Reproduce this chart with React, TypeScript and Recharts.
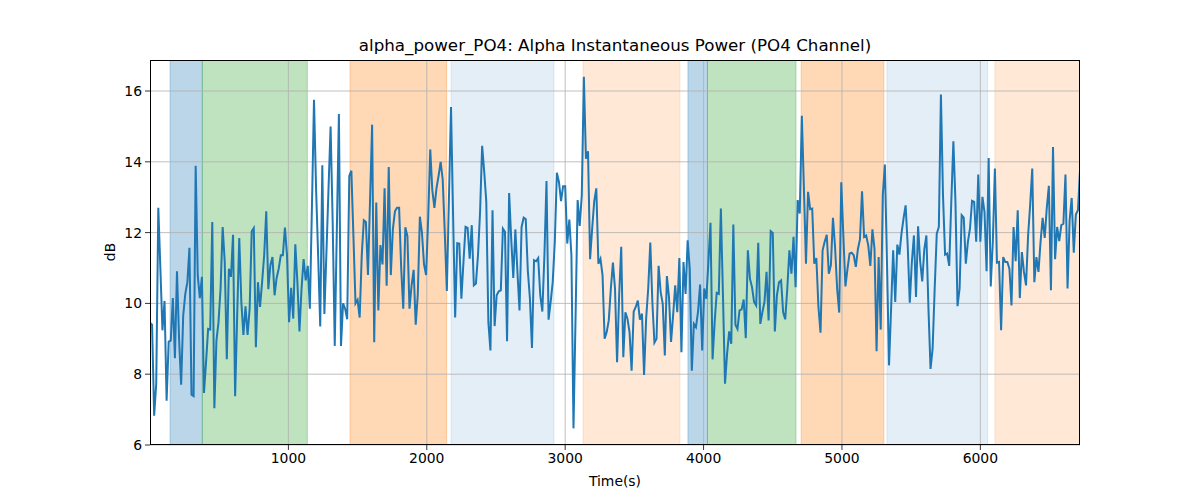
import React from 'react';
import { ComposedChart, Line, XAxis, YAxis, ReferenceArea, ReferenceLine } from 'recharts';

const TIME_STEP = 15;

const seg1 = [
  9.45, 9.4, 6.83, 7.73, 12.7, 10.98, 9.24, 10.07, 7.25, 8.92,
  8.95, 10.15, 8.45, 10.91, 9.0, 7.7, 9.66, 10.27, 10.6, 11.57,
  7.42, 7.38, 13.89, 10.79, 10.15, 10.75, 7.47, 8.34, 9.28, 9.26,
  12.3, 7.04, 8.95, 9.47, 10.42, 12.16, 11.17, 8.42, 10.98, 10.75,
  11.94, 7.38, 9.66, 11.85, 10.04, 9.11, 9.92, 9.11, 9.85, 12.04,
  12.13, 8.76, 10.6, 9.9, 10.6, 11.36, 12.6, 10.4, 11.08, 11.31,
  10.23, 10.72, 10.98, 11.36, 11.36, 12.14, 11.36, 9.47, 10.44, 9.57,
  11.67, 10.6, 9.21, 10.42, 11.25, 10.65, 11.06, 9.85,
];

const seg2 = [
  12.7, 15.75, 13.25, 11.35, 9.35, 13.9, 9.7, 11.45, 13.25, 15.0,
  12.3, 8.8, 12.07, 15.35, 8.8, 10.0, 9.85, 9.55, 13.6, 13.75,
  11.88, 10.0, 10.1, 9.6, 11.35, 12.35, 12.3, 10.8, 12.92, 15.05,
  8.9, 12.85, 9.8, 11.65, 11.1, 13.25, 10.5, 13.85, 10.8, 12.1,
  12.6, 12.7, 12.7, 11.0, 9.85, 12.15, 11.9, 9.85, 10.5, 10.95,
  9.4, 10.25, 12.45, 12.0, 11.1, 10.8, 12.4, 14.35, 13.2, 12.7,
  13.25, 13.6, 14.0, 13.5, 12.0, 10.35, 12.95, 15.55, 12.5, 9.6,
  11.7,
];

const seg3 = [
  11.69, 10.13, 11.17, 12.16, 12.13, 11.26, 12.21, 10.51, 10.56, 11.36,
  12.58, 14.45, 13.72, 12.87, 9.47, 8.67, 12.63, 9.36, 10.23, 10.34,
  10.37, 12.11, 12.02, 8.93, 13.12, 11.83, 10.72, 12.09, 10.89, 9.8,
  12.16, 12.42, 12.38, 10.93, 10.15, 8.74, 11.22, 11.19, 11.28, 10.23,
  9.77, 11.36, 13.46, 9.54, 10.04, 10.6, 11.74, 13.69, 13.43, 12.89,
  13.31, 13.31, 11.69, 12.37, 11.36, 6.47, 9.6, 12.92, 12.19, 13.06,
  16.4, 14.09, 14.3, 11.25, 12.11, 12.89, 13.25, 11.12, 11.26, 10.79,
  9.0, 9.19, 9.52, 10.42, 11.15, 10.42, 8.34, 10.23, 11.6,
];

const seg4 = [
  8.48, 9.75, 9.57, 9.19, 8.1, 9.77, 9.9, 10.08, 9.54, 9.71,
  7.98, 9.57, 10.42, 11.72, 10.04, 8.89, 9.0, 11.06, 10.32, 9.99,
  8.53, 10.77, 10.18, 8.91, 9.66, 10.51, 9.75, 11.28, 8.62, 11.17,
  10.27, 11.78, 10.98, 8.1, 9.42, 9.33, 9.77, 10.53, 8.67, 10.42,
  10.13, 11.17, 12.28, 8.42, 9.47, 10.3, 10.27, 12.68, 10.23, 7.73,
  8.58, 9.21, 8.86, 12.23, 9.4, 9.28, 9.8, 9.83, 10.11, 9.02,
  11.5, 10.7, 10.46, 10.04, 9.94, 11.71, 9.42, 9.75, 10.04, 10.89,
  9.52, 12.04, 11.99, 9.21,
];

const seg5 = [
  10.23, 10.6, 10.65, 9.75, 9.55, 10.42, 11.5, 10.84, 11.88, 10.46,
  12.92, 12.54, 15.3, 13.25, 11.12, 13.15, 12.66, 12.68, 11.12, 11.28,
  9.9, 9.17, 11.5, 11.74, 11.94, 10.84, 11.08, 12.42, 11.6, 10.42,
  9.74, 13.42, 11.92, 10.48, 10.98, 11.41, 11.43, 11.36, 11.03, 11.53,
  11.81, 13.17, 11.88, 11.92, 11.64, 11.06, 12.09, 11.55, 8.65, 11.31,
  9.26, 13.06, 13.92, 11.2, 8.25, 9.85, 11.5, 10.04, 11.66, 11.38,
  11.97, 12.4, 12.77, 11.64, 10.02, 11.17, 11.92, 10.18, 12.18, 11.19,
  10.62, 11.53, 11.92, 9.85, 8.15,
];

const seg6 = [
  8.72, 10.42, 11.97, 12.16, 15.9, 13.06, 11.38, 11.41, 11.06, 12.87,
  14.58, 12.87, 9.92, 10.42, 12.49, 12.42, 11.12, 11.74, 12.11, 12.9,
  12.87, 11.74, 13.64, 11.74, 13.01, 12.58, 10.91, 14.11, 10.48, 11.74,
  13.81, 11.15, 11.17, 9.24, 11.31, 11.17, 11.17, 10.98, 9.94, 12.16,
  11.19, 12.63, 10.15, 11.45, 10.89, 10.51, 11.92, 12.79, 13.81, 10.6,
  11.31, 10.89, 11.74, 12.42, 11.85, 12.7, 13.32, 10.37, 14.42, 11.25,
  12.16, 11.76, 12.21, 12.25, 13.64, 10.42, 12.35, 12.98, 11.43, 12.51,
  12.63, 13.76,
];

const values = [...seg1, ...seg2, ...seg3, ...seg4, ...seg5, ...seg6];
const data = values.map((v, i) => ({ t: i * TIME_STEP, v }));

const xTicks = [1000, 2000, 3000, 4000, 5000, 6000];
const yTicks = [6, 8, 10, 12, 14, 16];
const xDomain = [0, 6720];
const yDomain = [6, 16.876];

const spanStarts = [145, 378, 1445, 2175, 3129, 3887, 4028, 4705, 5325, 6105];
const spanEnds = [378, 1137, 2144, 2919, 3829, 4028, 4668, 5303, 6053, 6720];
const spanKinds = ['a', 'b', 'c', 'd', 'e', 'a', 'b', 'c', 'd', 'e'];

const kindStyle: Record<string, { fill: string; opacity: number }> = {
  a: { fill: '#1f77b4', opacity: 0.3 },
  b: { fill: '#2ca02c', opacity: 0.3 },
  c: { fill: '#ff7f0e', opacity: 0.3 },
  d: { fill: '#1f77b4', opacity: 0.12 },
  e: { fill: '#ff7f0e', opacity: 0.17 },
};

const FONT = 'DejaVu Sans, sans-serif';
const GRID = '#b0b0b0';

export default function App() {
  return (
    <div style={{ position: 'absolute', left: 0, top: 0, width: 1200, height: 500, background: '#fff', fontFamily: FONT }}>
      <div
        style={{
          position: 'absolute',
          left: 150,
          top: 35,
          width: 930,
          textAlign: 'center',
          fontSize: 16.7,
          color: '#000',
          lineHeight: '20px',
        }}
      >
        alpha_power_PO4: Alpha Instantaneous Power (PO4 Channel)
      </div>
      <ComposedChart width={1200} height={500} data={data} margin={{ top: 60, right: 120, bottom: 0, left: 0 }}>
        <XAxis
          dataKey="t"
          type="number"
          domain={xDomain}
          ticks={xTicks}
          allowDataOverflow
          height={55}
          axisLine={false}
          tickLine={{ stroke: '#000', strokeWidth: 0.8 }}
          tickSize={5}
          tickMargin={3}
          tick={{ fill: '#000', fontSize: 13.9, fontFamily: FONT }}
          label={{
            content: () => (
              <text x={615} y={486} textAnchor="middle" fontSize={13.9} fontFamily={FONT} fill="#000">
                Time(s)
              </text>
            ),
          }}
        />
        <YAxis
          type="number"
          domain={yDomain}
          ticks={yTicks}
          allowDataOverflow
          width={150}
          axisLine={false}
          tickLine={{ stroke: '#000', strokeWidth: 0.8 }}
          tickSize={5}
          tickMargin={3}
          tick={{ fill: '#000', fontSize: 13.9, fontFamily: FONT }}
          label={{
            content: () => (
              <text
                x={115}
                y={252}
                transform="rotate(-90 115 252)"
                textAnchor="middle"
                fontSize={13.9}
                fontFamily={FONT}
                fill="#000"
              >
                dB
              </text>
            ),
          }}
        />
        {spanStarts.map((s, i) => (
          <ReferenceArea
            key={'span' + i}
            x1={s}
            x2={spanEnds[i]}
            y1={yDomain[0]}
            y2={yDomain[1]}
            fill={kindStyle[spanKinds[i]].fill}
            fillOpacity={kindStyle[spanKinds[i]].opacity}
            stroke={kindStyle[spanKinds[i]].fill}
            strokeOpacity={kindStyle[spanKinds[i]].opacity}
            ifOverflow="hidden"
          />
        ))}
        {xTicks.map((x) => (
          <ReferenceLine key={'gx' + x} x={x} stroke={GRID} strokeWidth={0.8} />
        ))}
        {yTicks.map((y) => (
          <ReferenceLine key={'gy' + y} y={y} stroke={GRID} strokeWidth={0.8} />
        ))}
        <Line
          type="linear"
          dataKey="v"
          stroke="#1f77b4"
          strokeWidth={2}
          dot={false}
          isAnimationActive={false}
        />
      </ComposedChart>
      <div
        style={{
          position: 'absolute',
          left: 150,
          top: 60,
          width: 930,
          height: 385,
          boxSizing: 'border-box',
          border: '1px solid #000',
          pointerEvents: 'none',
        }}
      />
    </div>
  );
}
